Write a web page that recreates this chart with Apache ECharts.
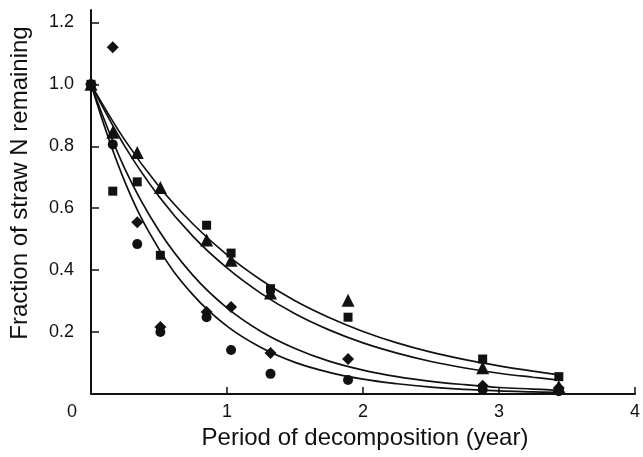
<!DOCTYPE html>
<html lang="en">
<head>
  <meta charset="UTF-8">
  <title>Straw N remaining</title>
  <script src="https://cdn.jsdelivr.net/npm/echarts@6/dist/echarts.min.js"></script>
  <style>
    body { margin: 0; background: #fff; }
    #chart { width: 643px; height: 457px; }
  </style>
</head>
<body>
  <div id="chart"></div>
  <script>
    // sampling times (year)
    const times = [0, 0.16, 0.34, 0.51, 0.85, 1.03, 1.32, 1.89, 2.88, 3.44]
    // measured fractions for each treatment
    const squares   = [1.0, 0.655, 0.685, 0.448, 0.545, 0.455, 0.340, 0.248, 0.113, 0.056]
    const triangles = [1.0, 0.845, 0.780, 0.667, 0.497, 0.432, 0.326, 0.303, 0.085, 0.024]
    const diamonds  = [1.0, 1.120, 0.555, 0.216, 0.265, 0.281, 0.132, 0.113, 0.027, 0.019]
    const circles   = [1.0, 0.806, 0.484, 0.200, 0.248, 0.142, 0.065, 0.045, 0.014, 0.009]

    // fitted curves
    const fitX = [0, 0.25, 0.5, 0.75, 1, 1.25, 1.5, 1.75, 2, 2.25, 2.5, 2.75, 3, 3.25, 3.44]
    const fitSquare   = [1, 0.819, 0.670, 0.549, 0.449, 0.368, 0.301, 0.247, 0.202, 0.165, 0.135, 0.111, 0.091, 0.074, 0.062]
    const fitTriangle = [1, 0.799, 0.638, 0.509, 0.407, 0.325, 0.259, 0.207, 0.165, 0.132, 0.105, 0.084, 0.067, 0.054, 0.045]
    const fitDiamond  = [1, 0.726, 0.527, 0.383, 0.278, 0.202, 0.147, 0.106, 0.077, 0.056, 0.041, 0.030, 0.021, 0.016, 0.012]
    const fitCircle   = [1, 0.684, 0.468, 0.320, 0.219, 0.150, 0.102, 0.070, 0.048, 0.033, 0.022, 0.015, 0.010, 0.007, 0.005]

    const xTicks = [0, 1, 2, 3, 4]
    const yTicks = [0.2, 0.4, 0.6, 0.8, 1.0, 1.2]

    const pairs = (xs, ys) => xs.map((x, i) => [x, ys[i]])

    const myChart = echarts.init(document.getElementById('chart'))

    const font = 'Liberation Sans, Arial, sans-serif'
    const ink = '#111'

    function fitLine(ys) {
      return {
        type: 'line',
        data: pairs(fitX, ys),
        smooth: 0.4,
        showSymbol: false,
        silent: true,
        lineStyle: { color: ink, width: 1.7 },
        z: 2
      }
    }
    function dots(ys, symbol, size) {
      return {
        type: 'scatter',
        data: pairs(times, ys),
        symbol: symbol,
        symbolSize: size,
        itemStyle: { color: ink, opacity: 1 },
        z: 3
      }
    }

    const option = {
      animation: false,
      backgroundColor: '#fff',
      grid: { left: 91, right: 1, top: 10, bottom: 63 },
      xAxis: {
        type: 'value',
        min: 0,
        max: 4,
        interval: 1,
        name: 'Period of decomposition (year)',
        nameLocation: 'middle',
        nameGap: 32,
        nameTextStyle: { fontFamily: font, fontSize: 24, color: ink, padding: [0, 0, 0, 4] },
        axisLine: { lineStyle: { color: ink, width: 2 } },
        axisTick: { inside: true, length: 7, lineStyle: { color: ink, width: 1.5 }, customValues: xTicks },
        axisLabel: {
          customValues: xTicks,
          fontFamily: font,
          fontSize: 18,
          color: ink,
          margin: 9,
          formatter: v => v === 0 ? '{o|0}' : String(v),
          rich: { o: { fontFamily: font, fontSize: 18, color: ink, padding: [0, 38, 0, 0] } }
        },
        splitLine: { show: false }
      },
      yAxis: {
        type: 'value',
        min: 0,
        max: 1.24,
        interval: 0.2,
        name: 'Fraction of straw N remaining',
        nameLocation: 'middle',
        nameGap: 59,
        nameTextStyle: { fontFamily: font, fontSize: 24, color: ink, padding: [0, 0, 0, 38] },
        axisLine: { lineStyle: { color: ink, width: 2 } },
        axisTick: { inside: true, length: 8, lineStyle: { color: ink, width: 1.5 }, customValues: yTicks },
        axisLabel: {
          customValues: yTicks,
          fontFamily: font,
          fontSize: 18,
          color: ink,
          margin: 17,
          formatter: v => v.toFixed(1)
        },
        splitLine: { show: false }
      },
      series: [
        fitLine(fitSquare),
        fitLine(fitTriangle),
        fitLine(fitDiamond),
        fitLine(fitCircle),
        dots(squares, 'rect', 9),
        dots(triangles, 'triangle', 13),
        dots(diamonds, 'diamond', 12),
        dots(circles, 'circle', 10)
      ]
    }

    myChart.setOption(option)
  </script>
</body>
</html>
